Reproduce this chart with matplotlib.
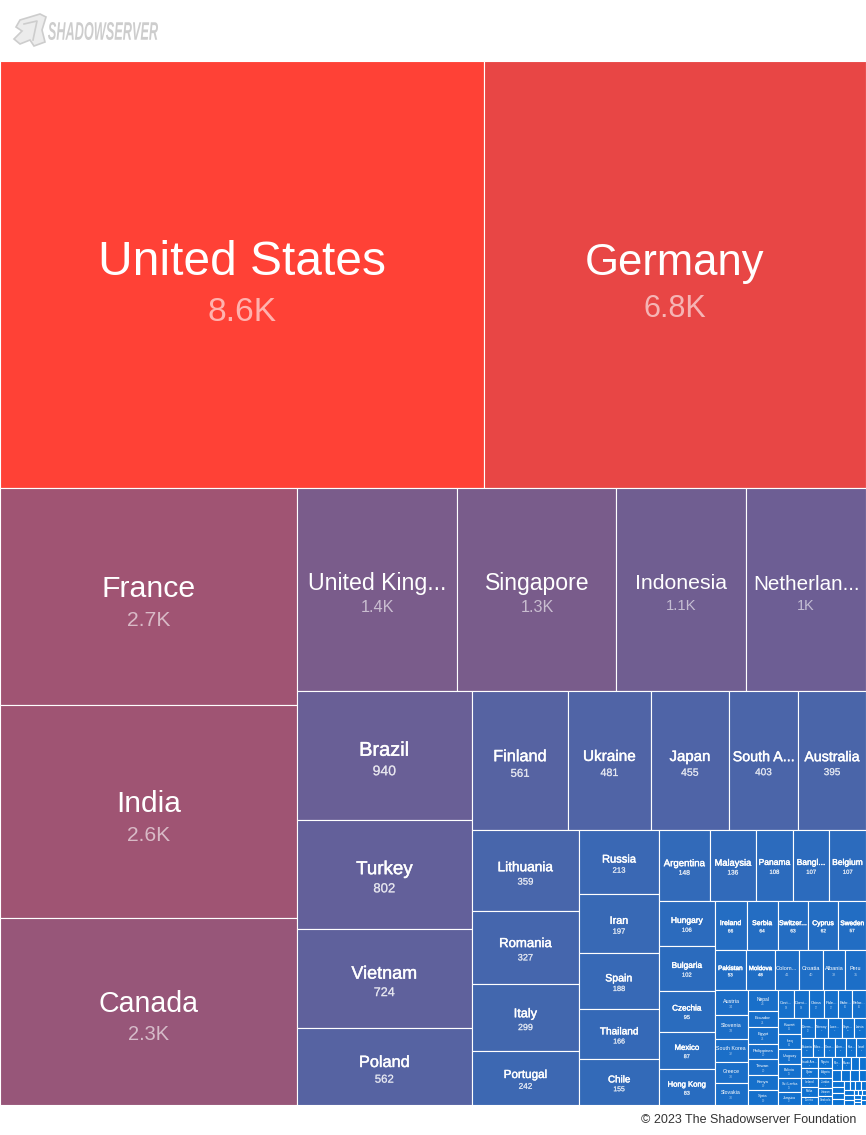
import numpy as np
import matplotlib
matplotlib.use("Agg")
import matplotlib.pyplot as plt
import matplotlib.patheffects as pe
from matplotlib.patches import Rectangle, Polygon, PathPatch
from matplotlib.textpath import TextPath
from matplotlib.font_manager import FontProperties
from matplotlib.transforms import Affine2D

# ---------------- data ----------------
countries = [
    "United States", "Germany", "France", "India", "Canada",
    "United Kingdom", "Singapore", "Indonesia", "Netherlands",
    "Brazil", "Turkey", "Vietnam", "Poland",
    "Finland", "Ukraine", "Japan", "South Africa", "Australia",
    "Lithuania", "Romania", "Italy", "Portugal",
    "Russia", "Iran", "Spain", "Thailand", "Chile",
    "Argentina", "Malaysia", "Panama", "Bangladesh", "Belgium",
    "Hungary", "Bulgaria", "Czechia", "Mexico", "Hong Kong",
    "Ireland", "Serbia", "Switzerland", "Cyprus", "Sweden",
    "Pakistan", "Moldova", "Colombia", "Croatia", "Albania", "Peru",
    "Austria", "Slovenia", "South Korea", "Greece", "Slovakia",
    "Nepal", "Ecuador", "Egypt", "Philippines", "Taiwan", "Kenya", "Syria",
    "Costa Rica", "Dominican Republic", "China", "Palestine", "Bahrain", "Belarus",
    "Kuwait", "Iraq", "Uruguay", "Bolivia", "Sri Lanka", "Jamaica", "Denmark",
    "Norway", "Luxembourg", "Seychelles", "Latvia", "Estonia", "Morocco",
    "Georgia", "Armenia", "Kazakhstan", "Israel", "Saudi Arabia", "Qatar",
    "Iceland", "Malta", "Tunisia", "Nigeria", "Algeria", "Jordan", "Lebanon",
    "Cambodia", "Mongolia", "Macau", "Oman", "Ghana", "Uzbekistan",
    "Azerbaijan", "Bosnia and Herzegovina", "North Macedonia", "Montenegro",
    "Kyrgyzstan", "Venezuela", "Guatemala", "Paraguay", "Honduras",
    "El Salvador", "Myanmar", "Laos", "Brunei", "Mauritius", "Tanzania",
    "Uganda", "Zambia", "Angola", "Cuba", "Fiji", "Nicaragua", "Bhutan",
]
values = [
    8612, 6810, 2698, 2636, 2314,
    1366, 1349, 1103, 1018,
    940, 802, 724, 562,
    561, 481, 455, 403, 395,
    359, 327, 299, 242,
    213, 197, 188, 166, 155,
    148, 136, 108, 107, 107,
    106, 102, 95, 87, 83,
    66, 64, 63, 62, 57,
    53, 48, 41, 40, 38, 35,
    34, 33, 32, 30, 30,
    26, 21, 21, 20, 20, 19, 19,
    18, 18, 17, 17, 16, 16,
    15, 14, 14, 13, 13, 12, 12,
    11, 11, 10, 10, 10, 9,
    9, 9, 8, 8, 8, 7,
    7, 7, 6, 6, 6, 6, 5,
    5, 5, 5, 4, 4, 4,
    4, 4, 3, 3,
    3, 3, 3, 2, 2,
    2, 2, 2, 2, 2, 1,
    1, 1, 1, 1, 1, 1, 1,
]
footer_text = "\u00a9 2023 The Shadowserver Foundation"
logo_text = "SHADOWSERVER"

# ---------------- squarified layout (golden-ratio variant) ----------------
PHI = (1 + 5 ** 0.5) / 2

def squarify_ratio(vals, x0, y0, x1, y1, ratio=PHI):
    rects = []
    n = len(vals)
    value = float(sum(vals))
    i0 = i1 = 0
    while i0 < n:
        dx, dy = x1 - x0, y1 - y0
        sum_v = vals[i1]
        i1 += 1
        min_v = max_v = sum_v
        alpha = max(dy / dx, dx / dy) / (value * ratio)
        beta = sum_v * sum_v * alpha
        min_ratio = max(max_v / beta, beta / min_v)
        while i1 < n:
            nv = vals[i1]
            s2 = sum_v + nv
            mn, mx = min(min_v, nv), max(max_v, nv)
            beta = s2 * s2 * alpha
            new_ratio = max(mx / beta, beta / mn)
            if new_ratio > min_ratio:
                break
            sum_v, min_v, max_v, min_ratio = s2, mn, mx, new_ratio
            i1 += 1
        row = vals[i0:i1]
        if dx < dy:  # horizontal strip on top
            yb = y0 + dy * sum_v / value if i1 < n else y1
            xx = x0
            for v in row:
                w = dx * v / sum_v
                rects.append((xx, y0, w, yb - y0))
                xx += w
            y0 = yb
        else:  # vertical strip on the left
            xb = x0 + dx * sum_v / value if i1 < n else x1
            yy = y0
            for v in row:
                h = dy * v / sum_v
                rects.append((x0, yy, xb - x0, h))
                yy += h
            x0 = xb
        value -= sum_v
        i0 = i1
    return rects

# ---------------- figure ----------------
W, H = 866, 1135
TOP, BOTTOM = 61, 1105
AW, AH = W, BOTTOM - TOP

fig = plt.figure(figsize=(W / 100, H / 100), dpi=100)
fig.patch.set_facecolor("white")
ax = fig.add_axes([0, (H - BOTTOM) / H, 1, AH / H])
ax.set_xlim(0, AW)
ax.set_ylim(AH, 0)
ax.axis("off")

vals = [float(v) for v in values]
rects = squarify_ratio(vals, 0.0, 0.0, float(AW), float(AH))

red = np.array([255, 65, 54]) / 255.0
blue = np.array([0, 116, 217]) / 255.0
vmax = max(vals)

def color_for(v):
    f = (v / vmax) ** 0.4
    return tuple(blue + (red - blue) * f)

def fmt(v):
    if v >= 1000:
        s = f"{v / 1000:.1f}".rstrip("0").rstrip(".")
        return s + "K"
    return str(int(v))

fig.canvas.draw()
renderer = fig.canvas.get_renderer()
PT = 0.72  # px -> pt at 100 dpi

for name, v, (x, y, w, h) in zip(countries, values, rects):
    ax.add_patch(Rectangle((x, y), w, h, facecolor=color_for(v),
                           edgecolor="white", linewidth=0.8))
    fs = 47.8 * (np.sqrt(w * h) / 453.0) ** 0.79
    if fs < 2.5:
        continue
    cx, cy = x + w / 2, y + h / 2
    small = 6 <= fs < 20.3
    effects = [pe.withStroke(linewidth=0.3, foreground="white")] if small else None
    effects_v = [pe.withStroke(linewidth=0.25, foreground=(1, 1, 1, 0.6))] if small else None
    avail = w - 0.08 * w
    t = ax.text(cx, cy - 0.25 * fs, name, ha="center", va="center",
                color="white", fontsize=fs * PT, family="Liberation Sans",
                path_effects=effects)
    if t.get_window_extent(renderer).width > avail:
        n = len(name) - 1
        shown = False
        while n >= 1:
            t.set_text(name[:n].rstrip() + "...")
            if t.get_window_extent(renderer).width <= avail:
                shown = True
                break
            n -= 1
        if not shown:
            t.set_text("")
    ax.text(cx, cy + 0.8 * fs, fmt(v), ha="center", va="center",
            color=(1, 1, 1, 0.6), fontsize=0.7 * fs * PT,
            family="Liberation Sans", path_effects=effects_v)

# ---------------- header logo ----------------
hax = fig.add_axes([0, 1 - TOP / H, 1, TOP / H])
hax.set_xlim(0, W)
hax.set_ylim(TOP, 0)
hax.axis("off")
gray = "#cdcdcd"
icon = [(20, 20), (40, 14), (46, 17), (42, 30), (45, 42), (34, 46), (30, 40),
        (20, 44), (14, 39), (22, 31), (16, 27)]
hax.add_patch(Polygon(icon, closed=True, facecolor="#ececec", edgecolor=gray, linewidth=1.2))
hax.plot([24, 37, 33], [24, 21, 40], color=gray, linewidth=1.2)

tp = TextPath((0, 0), logo_text, size=100,
              prop=FontProperties(family="Liberation Sans", weight="bold", style="italic"))
ext = tp.get_extents()
sx = (158 - 48) / ext.width
sy = (40 - 22) / ext.height
tr = Affine2D().translate(-ext.x0, -ext.y0).scale(sx, -sy).translate(48, 40)
hax.add_patch(PathPatch(tr.transform_path(tp), facecolor=gray, edgecolor="none"))

# ---------------- footer ----------------
fig.text(856 / W, 1 - 1120 / H, footer_text, ha="right", va="center",
         fontsize=9, color="#333333", family="Liberation Sans")

fig.savefig("out.png", dpi=100, facecolor="white")
